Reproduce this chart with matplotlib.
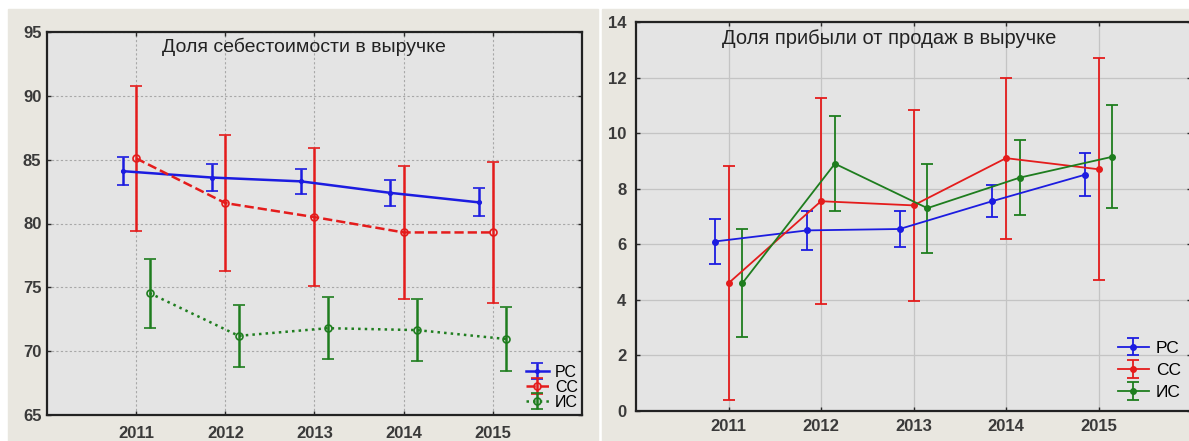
import matplotlib.pyplot as plt
from matplotlib.patches import Rectangle

years = [2011, 2012, 2013, 2014, 2015]
labels = ["РС", "СС", "ИС"]

# Доля себестоимости в выручке
cost_rc = [84.1, 83.6, 83.3, 82.4, 81.65]
cost_rc_err = [1.1, 1.05, 1.0, 1.0, 1.1]
cost_cc = [85.1, 81.6, 80.5, 79.3, 79.3]
cost_cc_err = [5.7, 5.3, 5.4, 5.2, 5.55]
cost_ic = [74.55, 71.2, 71.8, 71.65, 70.95]
cost_ic_err = [2.7, 2.45, 2.45, 2.45, 2.5]

# Доля прибыли от продаж в выручке
prof_rc = [6.1, 6.5, 6.55, 7.55, 8.5]
prof_rc_err = [0.82, 0.7, 0.65, 0.57, 0.78]
prof_cc = [4.6, 7.55, 7.4, 9.1, 8.7]
prof_cc_err = [4.2, 3.7, 3.45, 2.9, 4.0]
prof_ic = [4.6, 8.9, 7.3, 8.4, 9.15]
prof_ic_err = [1.95, 1.7, 1.6, 1.35, 1.85]

colors = ["#1c1ce0", "#e41c1c", "#1e7d1e"]
offsets = [-0.15, 0.0, 0.15]

plt.rcParams["font.family"] = ["Liberation Sans", "DejaVu Sans"]

W, H = 1189, 441
fig = plt.figure(figsize=(W / 100, H / 100), dpi=100, facecolor="white")

panel_bg = "#e9e7e0"
fig.patches.append(Rectangle((8 / W, 0), (598 - 8) / W, 1 - 9 / H,
                             transform=fig.transFigure, color=panel_bg, zorder=-10))
fig.patches.append(Rectangle((602 / W, 0), (W - 602) / W, 1 - 9 / H,
                             transform=fig.transFigure, color=panel_bg, zorder=-10))


def make_axes(left, top, right, bottom):
    return fig.add_axes([left / W, 1 - bottom / H, (right - left) / W, (bottom - top) / H])


def px(x, y):
    # пиксели картинки -> доли фигуры
    return (x / W, 1 - y / H)


ax1 = make_axes(47, 32, 582, 415)
ax2 = make_axes(636, 22, 1191, 411)

# левый график
styles1 = [("-", "o", colors[0], 2.5), ("--", "o", "none", 5), (":", "o", "none", 5)]
for k, (vals, errs) in enumerate([(cost_rc, cost_rc_err), (cost_cc, cost_cc_err), (cost_ic, cost_ic_err)]):
    ls, mk, mfc, ms = styles1[k]
    x = [y + offsets[k] for y in years]
    ax1.errorbar(x, vals, yerr=errs, color=colors[k], ls=ls, lw=1.8, marker=mk,
                 ms=ms, mfc=mfc, mec=colors[k], mew=1.2, capsize=4, capthick=1.8,
                 elinewidth=1.8, label=labels[k])
ax1.set_ylim(65, 95)
ax1.set_yticks([65, 70, 75, 80, 85, 90, 95])
ax1.grid(True, ls=(0, (2, 2)), color="#a8a8a8", lw=0.8)
ax1.text(*px(162, 47), "Доля себестоимости в выручке", transform=fig.transFigure,
         ha="left", va="center", fontsize=14, color="#222222")
ax1.tick_params(axis="x", pad=8)
ax1.tick_params(axis="y", pad=4)
ax1.legend(loc="lower right", frameon=False, fontsize=11.5, handlelength=1.4,
           handletextpad=0.4, labelspacing=0.0, borderpad=0, borderaxespad=0,
           bbox_to_anchor=px(578, 410), bbox_transform=fig.transFigure)

# правый график
for k, (vals, errs) in enumerate([(prof_rc, prof_rc_err), (prof_cc, prof_cc_err), (prof_ic, prof_ic_err)]):
    x = [y + offsets[k] for y in years]
    ax2.errorbar(x, vals, yerr=errs, color=colors[k], ls="-", lw=1.3, marker="o",
                 ms=4, mfc=colors[k], mec=colors[k], capsize=4, capthick=1.3,
                 elinewidth=1.3, label=labels[k])
ax2.set_ylim(0, 14)
ax2.set_yticks(range(0, 15, 2))
ax2.grid(True, ls="-", color="#c4c4c4", lw=0.9)
ax2.text(*px(722, 39), "Доля прибыли от продаж в выручке",
         transform=fig.transFigure, ha="left", va="center", fontsize=14.5, color="#222222")
ax2.tick_params(axis="x", pad=6)
ax2.tick_params(axis="y", pad=7)
ax2.legend(loc="lower right", frameon=False, fontsize=12.5, handlelength=1.8,
           handletextpad=0.4, labelspacing=0.4, borderpad=0, borderaxespad=0,
           bbox_to_anchor=px(1181, 400), bbox_transform=fig.transFigure)

for ax in (ax1, ax2):
    ax.set_facecolor("#e4e4e4")
    ax.set_xlim(2010, 2016)
    ax.set_xticks(years)
    ax.set_axisbelow(True)
    ax.tick_params(direction="in", length=3, width=1, top=True, right=True,
                   labelsize=12, colors="#2a2a2a")
    for lbl in ax.get_xticklabels() + ax.get_yticklabels():
        lbl.set_fontweight("bold")
        lbl.set_color("#3a3a3a")
    for s in ax.spines.values():
        s.set_linewidth(1.6)
        s.set_color("#222222")

fig.savefig("out.png", dpi=100, facecolor=fig.get_facecolor())
